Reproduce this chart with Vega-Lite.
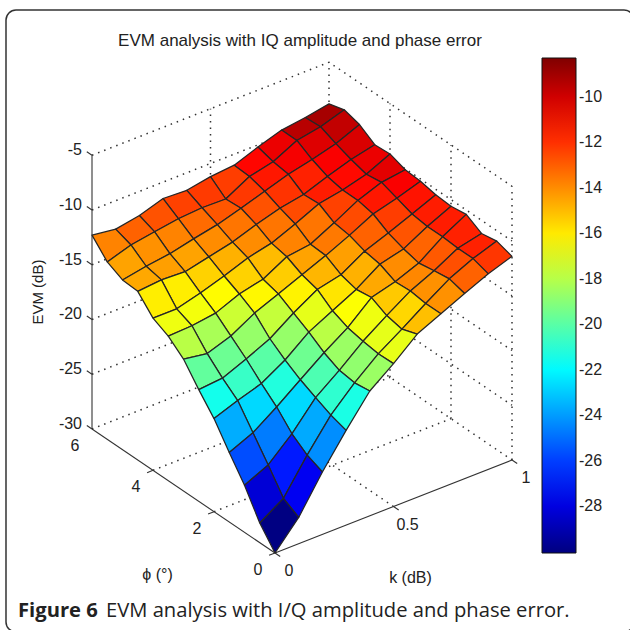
{"$schema":"https://vega.github.io/schema/vega-lite/v6.json","width":628,"height":622,"padding":{"left":6,"top":10,"right":0,"bottom":0},"autosize":{"type":"none"},"background":"white",
"config":{"view":{"stroke":"#333333","strokeWidth":1.5,"cornerRadius":10,"fill":"white"}},
"title":{"text":"EVM analysis with IQ amplitude and phase error","anchor":"middle","offset":-40,"dx":-20,"font":"Liberation Sans","fontSize":17,"fontWeight":"normal","color":"#222222"},
"datasets":{
"surface":[
{"k":1,"phi":6,"evm":-8.8},{"k":1,"phi":5.5,"evm":-8.4},{"k":1,"phi":5,"evm":-8.8},{"k":1,"phi":4.5,"evm":-9.7},{"k":1,"phi":4,"evm":-9.6},{"k":1,"phi":3.5,"evm":-10.1},{"k":1,"phi":3,"evm":-10.2},{"k":1,"phi":2.5,"evm":-10.5},{"k":1,"phi":2,"evm":-10.6},{"k":1,"phi":1.5,"evm":-10.4},{"k":1,"phi":1,"evm":-11.2},{"k":1,"phi":0.5,"evm":-10.95},{"k":1,"phi":0,"evm":-11.4},
{"k":0.9,"phi":6,"evm":-9.2},{"k":0.9,"phi":5.5,"evm":-9.1},{"k":0.9,"phi":5,"evm":-9.7},{"k":0.9,"phi":4.5,"evm":-10.2},{"k":0.9,"phi":4,"evm":-10.6},{"k":0.9,"phi":3.5,"evm":-10.4},{"k":0.9,"phi":3,"evm":-10.9},{"k":0.9,"phi":2.5,"evm":-11.4},{"k":0.9,"phi":2,"evm":-11.6},{"k":0.9,"phi":1.5,"evm":-11.6},{"k":0.9,"phi":1,"evm":-11.7},{"k":0.9,"phi":0.5,"evm":-11.7},{"k":0.9,"phi":0,"evm":-12.15},
{"k":0.8,"phi":6,"evm":-9.5},{"k":0.8,"phi":5.5,"evm":-9.5},{"k":0.8,"phi":5,"evm":-10.3},{"k":0.8,"phi":4.5,"evm":-10.9},{"k":0.8,"phi":4,"evm":-11.2},{"k":0.8,"phi":3.5,"evm":-11.2},{"k":0.8,"phi":3,"evm":-11.5},{"k":0.8,"phi":2.5,"evm":-12.3},{"k":0.8,"phi":2,"evm":-12.8},{"k":0.8,"phi":1.5,"evm":-13.15},{"k":0.8,"phi":1,"evm":-12.9},{"k":0.8,"phi":0.5,"evm":-12.7},{"k":0.8,"phi":0,"evm":-13.1},
{"k":0.7,"phi":6,"evm":-10.2},{"k":0.7,"phi":5.5,"evm":-10.6},{"k":0.7,"phi":5,"evm":-10.8},{"k":0.7,"phi":4.5,"evm":-11.7},{"k":0.7,"phi":4,"evm":-11.6},{"k":0.7,"phi":3.5,"evm":-12.4},{"k":0.7,"phi":3,"evm":-12.6},{"k":0.7,"phi":2.5,"evm":-13.1},{"k":0.7,"phi":2,"evm":-13.35},{"k":0.7,"phi":1.5,"evm":-14},{"k":0.7,"phi":1,"evm":-13.9},{"k":0.7,"phi":0.5,"evm":-14.1},{"k":0.7,"phi":0,"evm":-14.1},
{"k":0.6,"phi":6,"evm":-11},{"k":0.6,"phi":5.5,"evm":-11.1},{"k":0.6,"phi":5,"evm":-11.5},{"k":0.6,"phi":4.5,"evm":-12.1},{"k":0.6,"phi":4,"evm":-12.6},{"k":0.6,"phi":3.5,"evm":-13.5},{"k":0.6,"phi":3,"evm":-13.6},{"k":0.6,"phi":2.5,"evm":-14.4},{"k":0.6,"phi":2,"evm":-14.8},{"k":0.6,"phi":1.5,"evm":-14.6},{"k":0.6,"phi":1,"evm":-15.3},{"k":0.6,"phi":0.5,"evm":-15.6},{"k":0.6,"phi":0,"evm":-15.1},
{"k":0.5,"phi":6,"evm":-11.2},{"k":0.5,"phi":5.5,"evm":-12.3},{"k":0.5,"phi":5,"evm":-12.2},{"k":0.5,"phi":4.5,"evm":-12.75},{"k":0.5,"phi":4,"evm":-13.5},{"k":0.5,"phi":3.5,"evm":-13.8},{"k":0.5,"phi":3,"evm":-14.5},{"k":0.5,"phi":2.5,"evm":-14.9},{"k":0.5,"phi":2,"evm":-15.9},{"k":0.5,"phi":1.5,"evm":-16.5},{"k":0.5,"phi":1,"evm":-16.8},{"k":0.5,"phi":0.5,"evm":-17},{"k":0.5,"phi":0,"evm":-16.95},
{"k":0.4,"phi":6,"evm":-11.6},{"k":0.4,"phi":5.5,"evm":-12.25},{"k":0.4,"phi":5,"evm":-12.85},{"k":0.4,"phi":4.5,"evm":-13.5},{"k":0.4,"phi":4,"evm":-14},{"k":0.4,"phi":3.5,"evm":-15},{"k":0.4,"phi":3,"evm":-15.4},{"k":0.4,"phi":2.5,"evm":-16.2},{"k":0.4,"phi":2,"evm":-17},{"k":0.4,"phi":1.5,"evm":-17.94},{"k":0.4,"phi":1,"evm":-18.6},{"k":0.4,"phi":0.5,"evm":-18.8},{"k":0.4,"phi":0,"evm":-18.6},
{"k":0.3,"phi":6,"evm":-11.5},{"k":0.3,"phi":5.5,"evm":-12.4},{"k":0.3,"phi":5,"evm":-13.3},{"k":0.3,"phi":4.5,"evm":-14},{"k":0.3,"phi":4,"evm":-14.8},{"k":0.3,"phi":3.5,"evm":-15.5},{"k":0.3,"phi":3,"evm":-16.3},{"k":0.3,"phi":2.5,"evm":-17.7},{"k":0.3,"phi":2,"evm":-18.7},{"k":0.3,"phi":1.5,"evm":-19.56},{"k":0.3,"phi":1,"evm":-20.25},{"k":0.3,"phi":0.5,"evm":-20.9},{"k":0.3,"phi":0,"evm":-21.35},
{"k":0.2,"phi":6,"evm":-12.2},{"k":0.2,"phi":5.5,"evm":-12.75},{"k":0.2,"phi":5,"evm":-13.8},{"k":0.2,"phi":4.5,"evm":-14.5},{"k":0.2,"phi":4,"evm":-15.5},{"k":0.2,"phi":3.5,"evm":-16.4},{"k":0.2,"phi":3,"evm":-17.55},{"k":0.2,"phi":2.5,"evm":-18.7},{"k":0.2,"phi":2,"evm":-20},{"k":0.2,"phi":1.5,"evm":-21.2},{"k":0.2,"phi":1,"evm":-22.7},{"k":0.2,"phi":0.5,"evm":-23.7},{"k":0.2,"phi":0,"evm":-24.3},
{"k":0.1,"phi":6,"evm":-12.6},{"k":0.1,"phi":5.5,"evm":-13.1},{"k":0.1,"phi":5,"evm":-14.1},{"k":0.1,"phi":4.5,"evm":-14.4},{"k":0.1,"phi":4,"evm":-16.1},{"k":0.1,"phi":3.5,"evm":-16.7},{"k":0.1,"phi":3,"evm":-18.3},{"k":0.1,"phi":2.5,"evm":-19.6},{"k":0.1,"phi":2,"evm":-20.7},{"k":0.1,"phi":1.5,"evm":-22.7},{"k":0.1,"phi":1,"evm":-24.7},{"k":0.1,"phi":0.5,"evm":-26.8},{"k":0.1,"phi":0,"evm":-27.6},
{"k":0,"phi":6,"evm":-12.3},{"k":0,"phi":5.5,"evm":-13.8},{"k":0,"phi":5,"evm":-14.5},{"k":0,"phi":4.5,"evm":-14.6},{"k":0,"phi":4,"evm":-16.1},{"k":0,"phi":3.5,"evm":-16.8},{"k":0,"phi":3,"evm":-17.95},{"k":0,"phi":2.5,"evm":-19.8},{"k":0,"phi":2,"evm":-21.5},{"k":0,"phi":1.5,"evm":-23.65},{"k":0,"phi":1,"evm":-25.7},{"k":0,"phi":0.5,"evm":-28.2},{"k":0,"phi":0,"evm":-30}
],
"grid":[
{"id":"z5","o":0,"k":0,"phi":6,"z":-5},{"id":"z5","o":1,"k":1,"phi":6,"z":-5},{"id":"z5","o":2,"k":1,"phi":0,"z":-5},
{"id":"z10","o":0,"k":0,"phi":6,"z":-10},{"id":"z10","o":1,"k":1,"phi":6,"z":-10},{"id":"z10","o":2,"k":1,"phi":0,"z":-10},
{"id":"z15","o":0,"k":0,"phi":6,"z":-15},{"id":"z15","o":1,"k":1,"phi":6,"z":-15},{"id":"z15","o":2,"k":1,"phi":0,"z":-15},
{"id":"z20","o":0,"k":0,"phi":6,"z":-20},{"id":"z20","o":1,"k":1,"phi":6,"z":-20},{"id":"z20","o":2,"k":1,"phi":0,"z":-20},
{"id":"z25","o":0,"k":0,"phi":6,"z":-25},{"id":"z25","o":1,"k":1,"phi":6,"z":-25},{"id":"z25","o":2,"k":1,"phi":0,"z":-25},
{"id":"z30","o":0,"k":0,"phi":6,"z":-30},{"id":"z30","o":1,"k":1,"phi":6,"z":-30},{"id":"z30","o":2,"k":1,"phi":0,"z":-30},
{"id":"v1","o":0,"k":0.5,"phi":6,"z":-30},{"id":"v1","o":1,"k":0.5,"phi":6,"z":-5},
{"id":"v2","o":0,"k":1,"phi":6,"z":-30},{"id":"v2","o":1,"k":1,"phi":6,"z":-5},
{"id":"v3","o":0,"k":1,"phi":4,"z":-30},{"id":"v3","o":1,"k":1,"phi":4,"z":-5},
{"id":"v4","o":0,"k":1,"phi":2,"z":-30},{"id":"v4","o":1,"k":1,"phi":2,"z":-5},
{"id":"v5","o":0,"k":1,"phi":0,"z":-30},{"id":"v5","o":1,"k":1,"phi":0,"z":-5},
{"id":"f1","o":0,"k":0.5,"phi":0,"z":-30},{"id":"f1","o":1,"k":0.5,"phi":6,"z":-30},
{"id":"f2","o":0,"k":0,"phi":2,"z":-30},{"id":"f2","o":1,"k":1,"phi":2,"z":-30},
{"id":"f3","o":0,"k":0,"phi":4,"z":-30},{"id":"f3","o":1,"k":1,"phi":4,"z":-30}
],
"axes":[
{"id":"az","o":0,"k":0,"phi":6,"z":-30},{"id":"az","o":1,"k":0,"phi":6,"z":-5},
{"id":"ap","o":0,"k":0,"phi":0,"z":-30},{"id":"ap","o":1,"k":0,"phi":6,"z":-30},
{"id":"ak","o":0,"k":0,"phi":0,"z":-30},{"id":"ak","o":1,"k":1,"phi":0,"z":-30},
{"id":"t1","o":0,"k":0,"phi":6,"z":-5},{"id":"t1","o":1,"k":0,"phi":6.17,"z":-5},
{"id":"t2","o":0,"k":0,"phi":6,"z":-10},{"id":"t2","o":1,"k":0,"phi":6.17,"z":-10},
{"id":"t3","o":0,"k":0,"phi":6,"z":-15},{"id":"t3","o":1,"k":0,"phi":6.17,"z":-15},
{"id":"t4","o":0,"k":0,"phi":6,"z":-20},{"id":"t4","o":1,"k":0,"phi":6.17,"z":-20},
{"id":"t5","o":0,"k":0,"phi":6,"z":-25},{"id":"t5","o":1,"k":0,"phi":6.17,"z":-25},
{"id":"t6","o":0,"k":0,"phi":6,"z":-30},{"id":"t6","o":1,"k":0,"phi":6.17,"z":-30},
{"id":"p0","o":0,"k":0,"phi":0,"z":-30},{"id":"p0","o":1,"k":-0.025,"phi":0,"z":-30},
{"id":"p2","o":0,"k":0,"phi":2,"z":-30},{"id":"p2","o":1,"k":-0.025,"phi":2,"z":-30},
{"id":"p4","o":0,"k":0,"phi":4,"z":-30},{"id":"p4","o":1,"k":-0.025,"phi":4,"z":-30},
{"id":"k0","o":0,"k":0,"phi":0,"z":-30},{"id":"k0","o":1,"k":0,"phi":-0.17,"z":-30},
{"id":"k5","o":0,"k":0.5,"phi":0,"z":-30},{"id":"k5","o":1,"k":0.5,"phi":-0.17,"z":-30},
{"id":"k1","o":0,"k":1,"phi":0,"z":-30},{"id":"k1","o":1,"k":1,"phi":-0.17,"z":-30}
]},
"encoding":{"x":{"field":"px","type":"quantitative","scale":{"domain":[6,634],"nice":false,"zero":false},"axis":null},"y":{"field":"py","type":"quantitative","scale":{"domain":[10,632],"nice":false,"zero":false,"reverse":true},"axis":null}},
"layer":[
{"data":{"name":"grid"},"transform":[{"calculate":"275+237*datum.k-30.5*datum.phi","as":"px"},{"calculate":"553-93*datum.k-20.67*datum.phi-10.95*(datum.z+30)","as":"py"}],
 "mark":{"type":"line","stroke":"#333333","strokeWidth":1.5,"strokeDash":[1.5,5]},"encoding":{"detail":{"field":"id"},"order":{"field":"o"}}},
{"data":{"name":"axes"},"transform":[{"calculate":"275+237*datum.k-30.5*datum.phi","as":"px"},{"calculate":"553-93*datum.k-20.67*datum.phi-10.95*(datum.z+30)","as":"py"}],
 "mark":{"type":"line","stroke":"#333333","strokeWidth":1.1},"encoding":{"detail":{"field":"id"},"order":{"field":"o"}}},
{"data":{"name":"surface"},"transform":[
 {"calculate":"round(datum.k*10)","as":"i"},{"calculate":"round(datum.phi*2)","as":"j"},
 {"calculate":"[2,1,3,0,4]","as":"cs"},{"flatten":["cs"],"as":["c"]},
 {"calculate":"datum.i-[0,1,1,0,0][datum.c]","as":"a"},{"calculate":"datum.j-[0,0,1,1,0][datum.c]","as":"b"},
 {"filter":"datum.a>=0 && datum.b>=0 && datum.a<=9 && datum.b<=11"},
 {"calculate":"'c'+datum.a+'_'+datum.b","as":"cell"},
 {"calculate":"datum.c==0 ? datum.evm : null","as":"cand"},
 {"joinaggregate":[{"op":"max","field":"cand","as":"shade"}],"groupby":["cell"]},
 {"calculate":"275+237*datum.k-30.5*datum.phi","as":"px"},{"calculate":"553-93*datum.k-20.67*datum.phi-10.95*(datum.evm+30)","as":"py"}],
 "mark":{"type":"line","filled":true,"stroke":"#262626","strokeWidth":1.25,"strokeJoin":"round"},
 "encoding":{"detail":{"field":"cell"},"order":{"field":"c"},
  "fill":{"field":"shade","type":"quantitative","scale":{"domain":[-30.05,-27.33,-21.9,-16.46,-11,-8.3],"range":["#000080","#0000ff","#00ffff","#ffff00","#ff0000","#800000"],"interpolate":"rgb"},
   "legend":{"orient":"none","legendX":536,"legendY":48,"title":null,"direction":"vertical","gradientLength":495,"gradientThickness":34,"gradientStrokeColor":"#111111","gradientStrokeWidth":1,"values":[-28,-26,-24,-22,-20,-18,-16,-14,-12,-10],"labelExpr":"''+datum.value","labelFont":"Liberation Sans","labelFontSize":16,"labelColor":"#222222","labelOffset":3}}}},
{"data":{"values":[{"t":-10},{"t":-12},{"t":-14},{"t":-16},{"t":-18},{"t":-20},{"t":-22},{"t":-24},{"t":-26},{"t":-28}]},"transform":[{"calculate":"97+(-10-datum.t)*22.7","as":"py"}],
 "mark":{"type":"rule","stroke":"#222222","strokeWidth":1},"encoding":{"x":{"value":536},"x2":{"value":540},"y":{"field":"py","type":"quantitative"}}},
{"data":{"values":[{"t":-10},{"t":-12},{"t":-14},{"t":-16},{"t":-18},{"t":-20},{"t":-22},{"t":-24},{"t":-26},{"t":-28}]},"transform":[{"calculate":"97+(-10-datum.t)*22.7","as":"py"}],
 "mark":{"type":"rule","stroke":"#222222","strokeWidth":1},"encoding":{"x":{"value":566},"x2":{"value":570},"y":{"field":"py","type":"quantitative"}}},
{"data":{"values":[{"label":"-5","z":-5},{"label":"-10","z":-10},{"label":"-15","z":-15},{"label":"-20","z":-20},{"label":"-25","z":-25},{"label":"-30","z":-30}]},"transform":[{"calculate":"275-30.5*6","as":"px"},{"calculate":"553-20.67*6-10.95*(datum.z+30)","as":"py"}],
 "mark":{"type":"text","font":"Liberation Sans","align":"right","baseline":"middle","dx":-10,"dy":-5,"fontSize":16,"fill":"#222222"},"encoding":{"text":{"field":"label"}}},
{"data":{"values":[{"label":"0","phi":0},{"label":"2","phi":2},{"label":"4","phi":4},{"label":"6","phi":6}]},"transform":[{"calculate":"275-30.5*datum.phi","as":"px"},{"calculate":"553-20.67*datum.phi","as":"py"}],
 "mark":{"type":"text","font":"Liberation Sans","align":"center","baseline":"middle","dx":-17,"dy":17,"fontSize":16,"fill":"#222222"},"encoding":{"text":{"field":"label"}}},
{"data":{"values":[{"label":"0","k":0},{"label":"0.5","k":0.5},{"label":"1","k":1}]},"transform":[{"calculate":"275+237*datum.k","as":"px"},{"calculate":"553-93*datum.k","as":"py"}],
 "mark":{"type":"text","font":"Liberation Sans","align":"center","baseline":"middle","dx":14,"dy":18,"fontSize":16,"fill":"#222222"},"encoding":{"text":{"field":"label"}}},
{"data":{"values":[{"label":"k (dB)","k":0.5}]},"transform":[{"calculate":"275+237*datum.k","as":"px"},{"calculate":"553-93*datum.k","as":"py"}],
 "mark":{"type":"text","font":"Liberation Sans","align":"center","baseline":"middle","dx":17,"dy":71,"fontSize":16,"fill":"#222222"},"encoding":{"text":{"field":"label"}}},
{"data":{"values":[{"label":"ϕ (°)","phi":3}]},"transform":[{"calculate":"275-30.5*datum.phi","as":"px"},{"calculate":"553-20.67*datum.phi","as":"py"}],
 "mark":{"type":"text","font":"Liberation Sans","align":"center","baseline":"middle","dx":-26,"dy":84,"fontSize":16,"fill":"#222222"},"encoding":{"text":{"field":"label"}}},
{"data":{"values":[{"label":"EVM (dB)","z":-17.5}]},"transform":[{"calculate":"275-30.5*6","as":"px"},{"calculate":"553-20.67*6-10.95*(datum.z+30)","as":"py"}],
 "mark":{"type":"text","font":"Liberation Sans","align":"center","baseline":"middle","dx":0,"dy":-54,"angle":270,"fontSize":15,"fill":"#222222"},"encoding":{"text":{"field":"label"}}},
{"data":{"values":[{"label":"Figure 6"}]},"mark":{"type":"text","align":"left","baseline":"middle","font":"Open Sans","fontWeight":"bold","fontSize":20.2,"fill":"#222222"},"encoding":{"x":{"value":12},"y":{"value":601},"text":{"field":"label"}}},
{"data":{"values":[{"label":"EVM analysis with I/Q amplitude and phase error."}]},"mark":{"type":"text","align":"left","baseline":"middle","font":"Open Sans","fontSize":20.2,"fill":"#222222"},"encoding":{"x":{"value":100},"y":{"value":601},"text":{"field":"label"}}}
]}
